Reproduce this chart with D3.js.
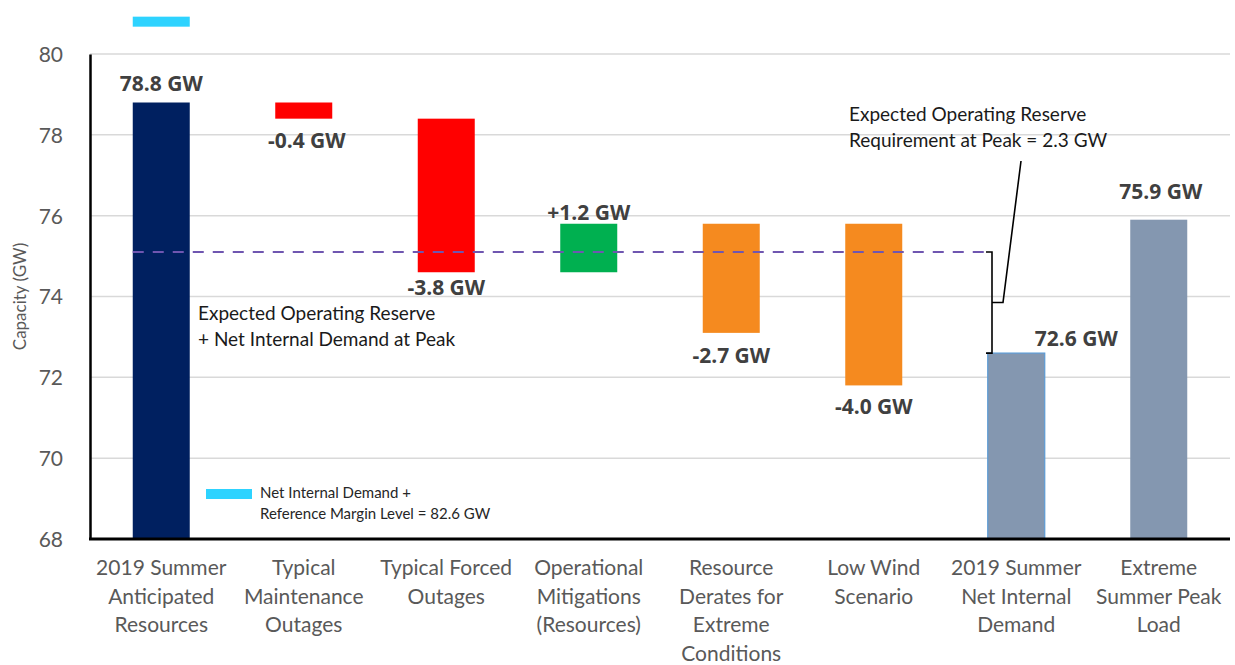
<!DOCTYPE html>
<html>
<head>
<meta charset="utf-8">
<script src="https://cdn.jsdelivr.net/npm/d3@7"></script>
<style>
  body { margin: 0; background: #fff; }
  svg text { font-family: Lato, "Open Sans", sans-serif; }
</style>
</head>
<body>
<div id="chart"></div>
<script>
// chart data
const categories = [
    ["2019 Summer", "Anticipated", "Resources"],
    ["Typical", "Maintenance", "Outages"],
    ["Typical Forced", "Outages"],
    ["Operational", "Mitigations", "(Resources)"],
    ["Resource", "Derates for", "Extreme", "Conditions"],
    ["Low Wind", "Scenario"],
    ["2019 Summer", "Net Internal", "Demand"],
    ["Extreme", "Summer Peak", "Load"]
];
const barBase = [68, 78.4, 74.6, 74.6, 73.1, 71.8, 68, 68];
const barTop = [78.8, 78.8, 78.4, 75.8, 75.8, 75.8, 72.6, 75.9];
const barLabels = ["78.8 GW", "-0.4 GW", "-3.8 GW", "+1.2 GW", "-2.7 GW", "-4.0 GW", "72.6 GW", "75.9 GW"];
const barColors = ["#002060", "#ff0000", "#ff0000", "#00b050", "#f58a1f", "#f58a1f", "#8497b0", "#8497b0"];
const yTicks = [68, 70, 72, 74, 76, 78, 80];
const reserveLevel = 75.1;      // dashed line (reserve + net internal demand)
const marginMarker = 80.8;      // cyan marker drawn at top edge (82.6 GW, off scale)

(function() {
    const width = 1235;
    const height = 665;
    const margin = { left: 90, right: 5, top: 54, bottom: 126 };

    const svg = d3.select("#chart")
        .append("svg")
        .attr("width", width)
        .attr("height", height);

    const x = d3.scaleBand()
        .domain(d3.range(categories.length))
        .range([margin.left, width - margin.right])
        .paddingInner(0.6)
        .paddingOuter(0.3);

    const y = d3.scaleLinear()
        .domain([68, 80])
        .range([height - margin.bottom, margin.top]);

    // gridlines
    svg.append("g")
        .selectAll("line")
        .data(yTicks.filter(d => d > 68))
        .join("line")
        .attr("x1", margin.left)
        .attr("x2", width - margin.right)
        .attr("y1", d => y(d))
        .attr("y2", d => y(d))
        .attr("stroke", "#d9d9d9")
        .attr("stroke-width", 1.5);

    // y axis
    const yAxis = svg.append("g")
        .attr("transform", `translate(${margin.left},0)`)
        .call(d3.axisLeft(y).tickValues(yTicks).tickSize(0).tickPadding(27));
    yAxis.select(".domain").attr("stroke", "#000").attr("stroke-width", 2.5);
    yAxis.selectAll("text")
        .attr("fill", "#595959")
        .style("font-size", "21px")
        .attr("dy", "0.35em");

    svg.append("text")
        .attr("transform", `translate(26,${y(74)}) rotate(-90)`)
        .attr("text-anchor", "middle")
        .attr("fill", "#595959")
        .style("font-size", "17px")
        .text("Capacity (GW)");

    // bars
    svg.append("g")
        .selectAll("rect")
        .data(barTop)
        .join("rect")
        .attr("x", (d, i) => x(i))
        .attr("width", x.bandwidth())
        .attr("y", d => y(d))
        .attr("height", (d, i) => y(barBase[i]) - y(d))
        .attr("fill", (d, i) => barColors[i])
        .attr("stroke", (d, i) => i === 6 ? "#5b9bd5" : "none")
        .attr("stroke-width", 1.2);

    // cyan marker for reference margin level
    svg.append("rect")
        .attr("x", x(0))
        .attr("width", x.bandwidth())
        .attr("y", y(marginMarker) - 5)
        .attr("height", 10)
        .attr("fill", "#2ed3ff");

    // dashed reserve line
    const bracketX = 992;
    svg.append("line")
        .attr("x1", x(0))
        .attr("x2", bracketX - 8)
        .attr("y1", y(reserveLevel))
        .attr("y2", y(reserveLevel))
        .attr("stroke", "#6f56b0")
        .attr("stroke-width", 2)
        .attr("stroke-dasharray", "11,9");

    // bracket and leader
    const yTopB = y(reserveLevel);
    const yBotB = y(barTop[6]);
    const yMid = (yTopB + yBotB) / 2;
    const bracket = d3.path();
    bracket.moveTo(bracketX - 6, yTopB);
    bracket.lineTo(bracketX, yTopB);
    bracket.lineTo(bracketX, yBotB);
    bracket.lineTo(bracketX - 6, yBotB);
    bracket.moveTo(bracketX, yMid);
    bracket.lineTo(bracketX + 11, yMid);
    bracket.lineTo(bracketX + 29, 161);
    svg.append("path")
        .attr("d", bracket)
        .attr("fill", "none")
        .attr("stroke", "#000")
        .attr("stroke-width", 1.6);

    // x axis line
    svg.append("line")
        .attr("x1", margin.left - 1)
        .attr("x2", width - margin.right)
        .attr("y1", y(68))
        .attr("y2", y(68))
        .attr("stroke", "#000")
        .attr("stroke-width", 3);

    // value labels: side and extra offsets
    const labelAbove = [true, false, false, true, false, false, true, true];
    const labelDy = [-12, 29, 23, -4, 30, 29, -7, -21];
    const labelDx = [0, 3, 0, 0, 0, 0, 60, 2];
    svg.append("g")
        .selectAll("text")
        .data(barLabels)
        .join("text")
        .attr("x", (d, i) => x(i) + x.bandwidth() / 2 + labelDx[i])
        .attr("y", (d, i) => (labelAbove[i] ? y(barTop[i]) : y(barBase[i])) + labelDy[i])
        .attr("text-anchor", "middle")
        .attr("fill", "#404040")
        .style("font-family", "'Open Sans', sans-serif")
        .style("font-weight", "bold")
        .style("font-size", "21px")
        .text(d => d);

    // category labels
    svg.append("g")
        .selectAll("text")
        .data(categories)
        .join("text")
        .attr("x", (d, i) => x(i) + x.bandwidth() / 2)
        .attr("y", 575)
        .attr("text-anchor", "middle")
        .attr("fill", "#595959")
        .style("font-size", "21px")
        .each(function(d) {
            d3.select(this).selectAll("tspan")
                .data(d)
                .join("tspan")
                .attr("x", d3.select(this).attr("x"))
                .attr("dy", (t, j) => j === 0 ? 0 : 28.5)
                .text(t => t);
        });

    // annotations
    const note1 = svg.append("text")
        .attr("fill", "#1a1a1a")
        .style("font-size", "19px");
    note1.append("tspan").attr("x", 198).attr("y", 320).text("Expected Operating Reserve");
    note1.append("tspan").attr("x", 198).attr("y", 346).text("+ Net Internal Demand at Peak");

    const note2 = svg.append("text")
        .attr("fill", "#1a1a1a")
        .style("font-size", "19px");
    note2.append("tspan").attr("x", 849).attr("y", 121).text("Expected Operating Reserve");
    note2.append("tspan").attr("x", 849).attr("y", 147).text("Requirement at Peak = 2.3 GW");

    // legend
    svg.append("rect")
        .attr("x", 206)
        .attr("y", 489)
        .attr("width", 46)
        .attr("height", 10)
        .attr("fill", "#2ed3ff");
    const leg = svg.append("text")
        .attr("fill", "#262626")
        .style("font-size", "15px");
    leg.append("tspan").attr("x", 260).attr("y", 498).text("Net Internal Demand +");
    leg.append("tspan").attr("x", 260).attr("y", 519).text("Reference Margin Level = 82.6 GW");
})();
</script>
</body>
</html>
